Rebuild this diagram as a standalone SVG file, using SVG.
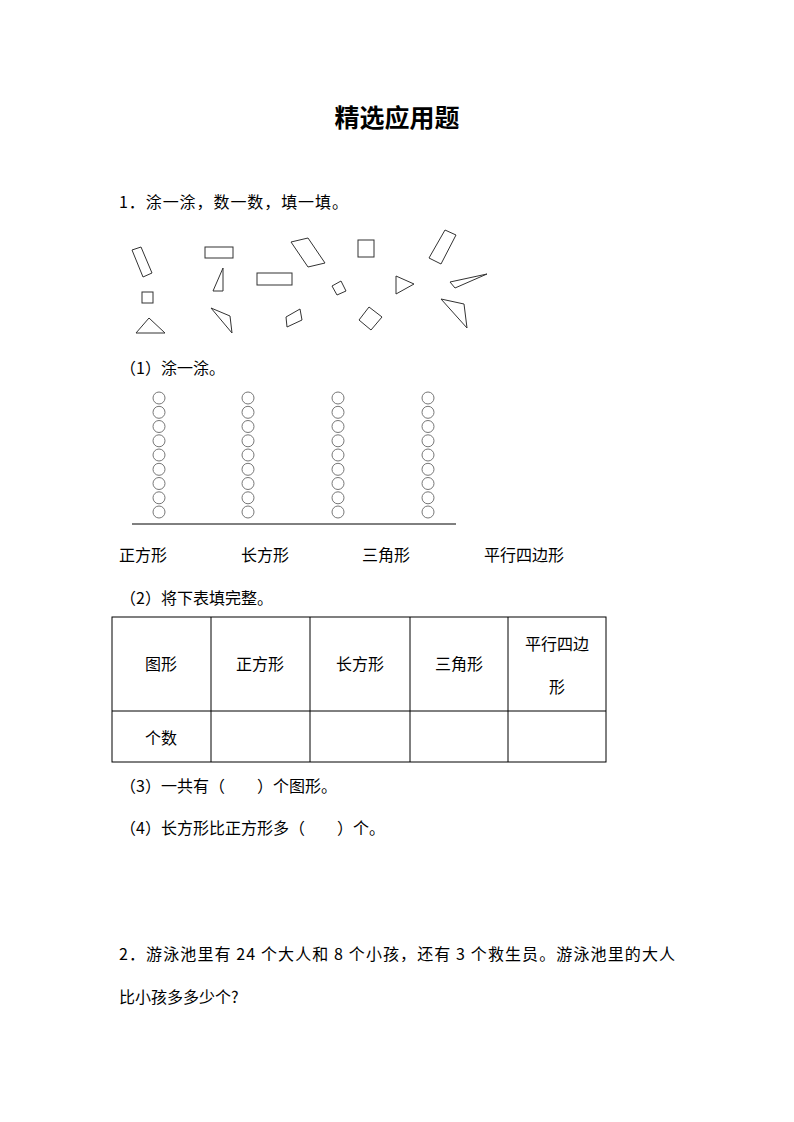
<svg xmlns="http://www.w3.org/2000/svg" width="794" height="1122" viewBox="0 0 794 1122">
<style>
text{font-family:"Noto Sans CJK SC","Noto Sans",sans-serif;font-size:16px;fill:#000}
.s{fill:none;stroke:#333;stroke-width:1}
.c{fill:none;stroke:#777;stroke-width:1}
.t{fill:none;stroke:#000;stroke-width:1}
.m{text-anchor:middle}
</style>
<rect width="794" height="1122" fill="#fff"/>
<text x="397" y="127" class="m" style="font-size:25px;font-weight:bold">精选应用题</text>
<text x="119" y="208" textLength="229">1．涂一涂，数一数，填一填。</text>
<g id="shapes">
<polygon class="s" points="132,250 141,247 152,273 143,277"/>
<rect class="s" x="205" y="247" width="28" height="11"/>
<polygon class="s" points="213,291 223,268 223,291"/>
<polygon class="s" points="291,242 308,238 325,263 308,267"/>
<rect class="s" x="257" y="273" width="35" height="12"/>
<rect class="s" x="358" y="240" width="16" height="17"/>
<polygon class="s" points="429,258 445,230 456,235 441,264"/>
<rect class="s" x="142" y="292" width="11" height="11"/>
<polygon class="s" points="136,333 149,318 165,333"/>
<polygon class="s" points="332,286 341,281 346,291 337,295"/>
<polygon class="s" points="396,276 414,284 396,294"/>
<polygon class="s" points="450,282 487,274 455,288"/>
<polygon class="s" points="211,308 230,316 232,333"/>
<polygon class="s" points="286,317 300,309 302,320 287,327"/>
<polygon class="s" points="359,320 369,307 382,317 371,330"/>
<polygon class="s" points="441,299 464,304 467,328"/>
</g>
<text x="120" y="374">（1）涂一涂。</text>
<defs>
<g id="col">
<circle class="c" cx="0" cy="398" r="6"/><circle class="c" cx="0" cy="412.3" r="6"/><circle class="c" cx="0" cy="426.5" r="6"/><circle class="c" cx="0" cy="440.8" r="6"/><circle class="c" cx="0" cy="455" r="6"/><circle class="c" cx="0" cy="469.3" r="6"/><circle class="c" cx="0" cy="483.5" r="6"/><circle class="c" cx="0" cy="497.8" r="6"/><circle class="c" cx="0" cy="512" r="6"/>
</g>
</defs>
<g id="circles">
<use href="#col" x="159"/><use href="#col" x="248"/><use href="#col" x="338"/><use href="#col" x="428"/>
</g>
<line x1="132" y1="524" x2="456" y2="524" stroke="#000"/>
<text x="119" y="561">正方形</text>
<text x="241" y="561">长方形</text>
<text x="362" y="561">三角形</text>
<text x="484" y="561">平行四边形</text>
<text x="120" y="604">（2）将下表填完整。</text>
<g id="table">
<rect class="t" x="112" y="617" width="494" height="145"/>
<line class="t" x1="112" y1="711" x2="606" y2="711"/>
<line class="t" x1="211" y1="617" x2="211" y2="762"/>
<line class="t" x1="310" y1="617" x2="310" y2="762"/>
<line class="t" x1="410" y1="617" x2="410" y2="762"/>
<line class="t" x1="508" y1="617" x2="508" y2="762"/>
<text x="161" y="670" class="m">图形</text>
<text x="260" y="670" class="m">正方形</text>
<text x="360" y="670" class="m">长方形</text>
<text x="459" y="670" class="m">三角形</text>
<text x="557" y="650" class="m">平行四边</text>
<text x="557" y="693" class="m">形</text>
<text x="161" y="744" class="m">个数</text>
</g>
<text x="120" y="792">（3）一共有（　　）个图形。</text>
<text x="120" y="834">（4）长方形比正方形多（　　）个。</text>
<text x="119" y="960" textLength="556">2．游泳池里有 24 个大人和 8 个小孩，还有 3 个救生员。游泳池里的大人</text>
<text x="119" y="1003">比小孩多多少个?</text>
</svg>
